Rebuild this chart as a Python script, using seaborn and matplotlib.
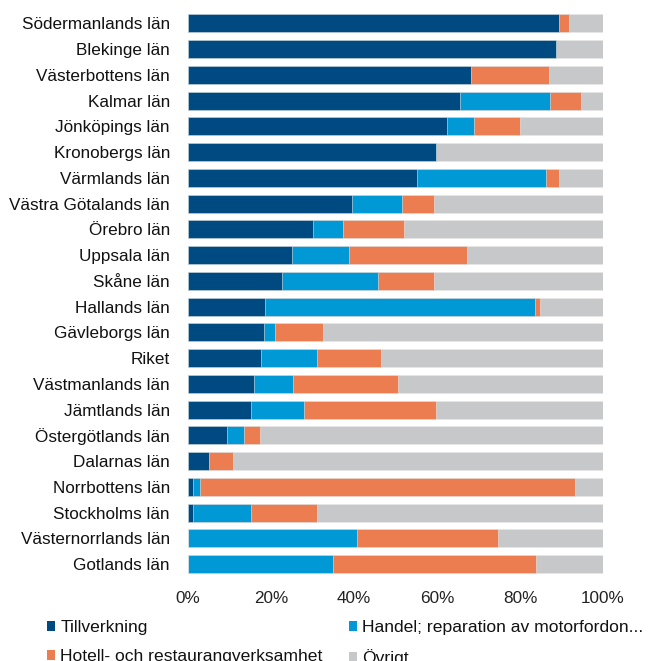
import numpy as np
import pandas as pd
import seaborn as sns
import matplotlib.pyplot as plt
from matplotlib.patches import Patch

sns.set_theme(style='white')
plt.rcParams['font.family'] = ['Liberation Sans', 'DejaVu Sans']

# Regions (top to bottom)
regions = ["Södermanlands län", "Blekinge län", "Västerbottens län", "Kalmar län",
           "Jönköpings län", "Kronobergs län", "Värmlands län", "Västra Götalands län",
           "Örebro län", "Uppsala län", "Skåne län", "Hallands län", "Gävleborgs län",
           "Riket", "Västmanlands län", "Jämtlands län", "Östergötlands län",
           "Dalarnas län", "Norrbottens län", "Stockholms län", "Västernorrlands län",
           "Gotlands län"]

# shares in percent
tillverkning = [89.5, 88.7, 68.1, 65.6, 62.3, 59.7, 55.1, 39.4, 30.2, 25.1, 22.6,
                18.5, 18.3, 17.5, 15.8, 15.2, 9.4, 5.0, 1.1, 1.1, 0.0, 0.0]
handel = [0.0, 0.0, 0.0, 21.7, 6.5, 0.0, 31.1, 12.2, 7.1, 13.7, 23.1,
          65.0, 2.6, 13.6, 9.5, 12.8, 4.0, 0.0, 1.8, 14.0, 40.8, 34.9]
hotell = [2.4, 0.0, 18.9, 7.5, 11.2, 0.0, 3.1, 7.7, 14.8, 28.5, 13.6,
          1.4, 11.6, 15.4, 25.3, 31.8, 3.9, 5.8, 90.4, 16.0, 33.9, 49.0]
ovrigt = [100 - a - b - c for a, b, c in zip(tillverkning, handel, hotell)]

series = ["Tillverkning", "Handel; reparation av motorfordon...",
          "Hotell- och restaurangverksamhet", "Övrigt"]
colors = ["#004a82", "#0099d6", "#ec7d51", "#c7c8ca"]

df = pd.DataFrame({"region": regions, "s1": tillverkning, "s2": handel,
                   "s3": hotell, "s4": ovrigt})
# cumulative sums for stacking (draw largest first)
df["c1"] = df["s1"]
df["c2"] = df["c1"] + df["s2"]
df["c3"] = df["c2"] + df["s3"]
df["c4"] = df["c3"] + df["s4"]

fig = plt.figure(figsize=(6.54, 6.61), dpi=100)
ax = fig.add_axes([188 / 654, 1 - 577 / 661, 415 / 654, 566.6 / 661])

for col, color in zip(["c4", "c3", "c2", "c1"], colors[::-1]):
    sns.barplot(data=df, x=col, y="region", color=color, width=0.7, saturation=1,
                edgecolor="#e8e8e8", linewidth=0.4, ax=ax, orient="h")

ax.set_xlim(0, 100)
ax.set_xticks([0, 20, 40, 60, 80, 100])
ax.set_xticklabels(["0%", "20%", "40%", "60%", "80%", "100%"])
ax.set_xlabel("")
ax.set_ylabel("")
ax.tick_params(axis='x', length=0, pad=10, labelsize=12.3, labelcolor="#222222")
ax.tick_params(axis='y', length=0, pad=13, labelsize=12.3, labelcolor="#111111")
sns.despine(ax=ax, left=True, bottom=True)

handles = [Patch(facecolor=c, edgecolor='none') for c in colors]
order = [0, 2, 1, 3]
leg = fig.legend([handles[i] for i in order], [series[i] for i in order],
                 loc='upper left', bbox_to_anchor=(47 / 654, 1 - 620 / 661),
                 ncol=2, frameon=False, fontsize=12.6, handlelength=0.46,
                 handleheight=0.46, handletextpad=0.3, columnspacing=1.5,
                 labelspacing=0.8, borderaxespad=0, borderpad=0)
for t in leg.get_texts():
    t.set_color("#111111")

fig.savefig("out.png", dpi=100)
